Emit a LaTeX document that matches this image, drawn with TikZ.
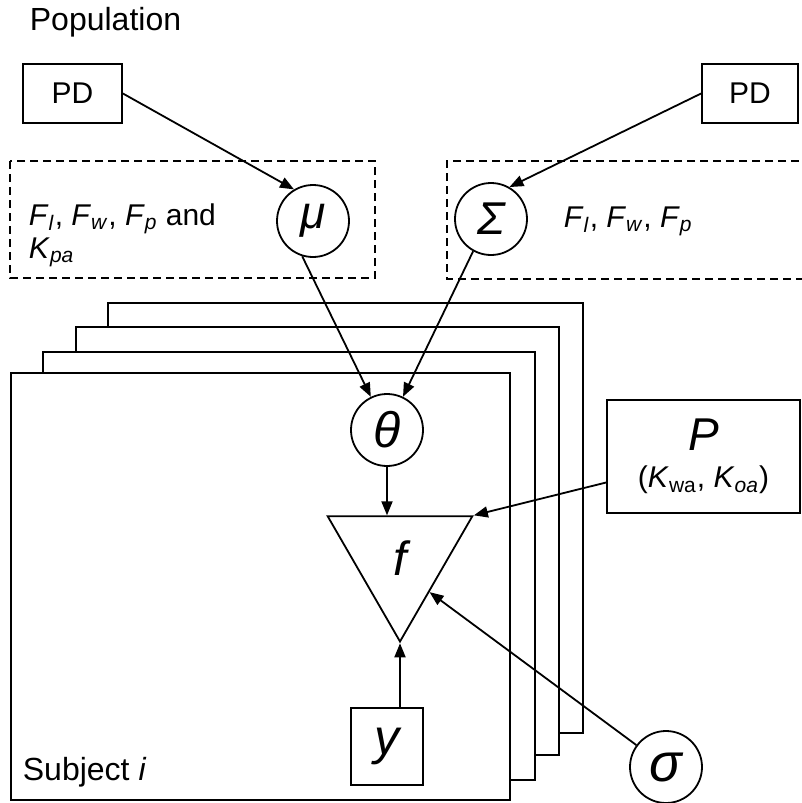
\documentclass[tikz,border=0pt]{standalone}
\usepackage{fontspec}
\setmainfont{Liberation Sans}
\usetikzlibrary{arrows.meta, calc, shapes.geometric}

\newcommand{\sub}[2]{\textit{#1}\textsubscript{\textit{#2}}}

\begin{document}
\begin{tikzpicture}[
x=0.5pt, y=-0.5pt,
line width=0.9pt,
inner sep=0 pt,
font=\fontsize{15}{16.5}\selectfont,
>={Triangle[length=7pt, width=5.5pt]},
varnode/.style={
circle,
draw,
minimum size=36pt,
font=\fontsize{23}{26}\selectfont\itshape,
},
boxnode/.style={
rectangle,
draw,
},
groupbox/.style={
draw,
dash pattern=on 4pt off 2.5pt,
},
plate/.style={
draw,
fill=white,
},
]
\useasboundingbox (0,0) rectangle (802,803);

% population level
\node [anchor=base west, font=\fontsize{16}{18}\selectfont] at (29,31) (pop) {Population};
\node [boxnode, minimum width=49.5pt, minimum height=29.5pt] at (72.5,93.5) (pdl) {PD};
\node [boxnode, minimum width=48pt, minimum height=29.5pt] at (750,93.5) (pdr) {PD};

\draw [groupbox] (10,161) rectangle (375,278);
\draw [groupbox] (812,161) -| (447,279) -- (812,279);
\node [anchor=base west, align=left] at (28,258) (fixl)
{\sub{F}{l}, \sub{F}{w}, \sub{F}{p} and\\\sub{K}{pa}};
\node [anchor=base west] at (563,227) (fixr) {\sub{F}{l}, \sub{F}{w}, \sub{F}{p}};

\node [varnode] at (313,221) (mu) {μ};
\node [varnode] at (491,219) (Sigma) {Σ};

% subject plates
\foreach \l/\t/\r/\b in {108/303/583/733, 76/327/559/755, 43/352/535/780, 11/373/510/800}
\draw [plate] (\l,\t) rectangle (\r,\b);
\node [anchor=base west, font=\fontsize{16}{18}\selectfont] at (22,780) (subj) {Subject \textit{i}};

% subject level
\node [varnode, font=\fontsize{25}{26}\selectfont\itshape] at (387,430) (theta) {θ};
\node [draw, regular polygon, regular polygon sides=3, shape border rotate=180,
minimum size=83.5pt, font=\fontsize{24}{26}\selectfont\itshape] at (400,558) (f) {f};
\node [boxnode, minimum width=36pt, minimum height=38.5pt,
font=\fontsize{25}{26}\selectfont\itshape] at (387,746.5) (y) {y};
\coordinate (fin) at ($(f.corner 1)!0.4!(f.corner 2)$);

% fixed inputs
\node [boxnode, minimum width=96.5pt, minimum height=56.5pt, align=center] at (703.5,456.5) (P)
{{\fontsize{23}{24}\selectfont\itshape P}\\[2pt](\textit{K}\textsubscript{wa}, \sub{K}{oa})};
\node [varnode, font=\fontsize{27}{28}\selectfont\itshape] at (666,767) (sigma) {σ};

\draw [->] (pdl.east) -- (mu.121);
\draw [->] (pdr.west) -- (Sigma.60);
\draw [->] (mu.253) -- (theta);
\draw [->] (Sigma.241) -- (theta);
\draw [->] (theta) -- (theta |- f.north);
\draw [->] (f.corner 1 |- y.north) -- (f.corner 1);
\draw [->] ([yshift=-13pt]P.west) -- (f.corner 2);
\draw [->] (sigma) -- (fin);

\end{tikzpicture}
\end{document}
